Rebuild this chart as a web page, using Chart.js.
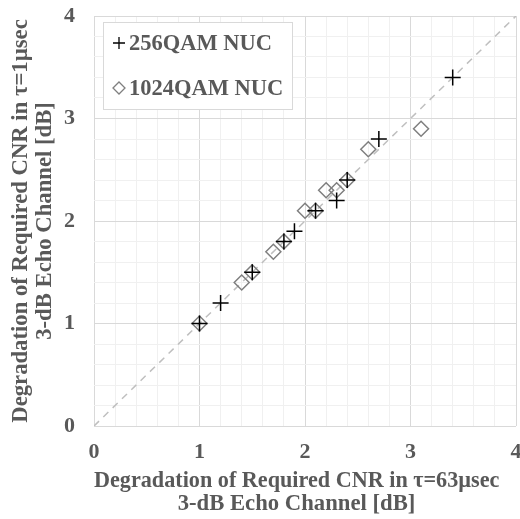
<!DOCTYPE html>
<html>
<head>
<meta charset="utf-8">
<script src="https://cdn.jsdelivr.net/npm/chart.js@4/dist/chart.umd.min.js"></script>
<style>
  html, body { margin: 0; padding: 0; background: #fff; }
  canvas { display: block; }
</style>
</head>
<body>
<canvas id="scatterChart" width="520" height="519"></canvas>
<script>
// x = degradation at tau=63usec, y = degradation at tau=1usec
const qam256X = [1.0, 1.2, 1.5, 1.8, 1.9, 2.1, 2.3, 2.4, 2.7, 3.4];
const qam256Y = [1.0, 1.2, 1.5, 1.8, 1.9, 2.1, 2.2, 2.4, 2.8, 3.4];
const qam1024X = [1.0, 1.4, 1.5, 1.7, 1.8, 2.0, 2.1, 2.2, 2.3, 2.4, 2.6, 3.1];
const qam1024Y = [1.0, 1.4, 1.5, 1.7, 1.8, 2.1, 2.1, 2.3, 2.3, 2.4, 2.7, 2.9];
const diagonalX = [0, 4];
const seriesNames = ['256QAM NUC', '1024QAM NUC'];
const xTitle = ['Degradation of Required CNR in \u03c4=63\u00b5sec', '3-dB Echo Channel [dB]'];
const yTitle = ['Degradation of Required CNR in \u03c4=1\u00b5sec', '3-dB Echo Channel [dB]'];

const FONT = '"Liberation Serif", "Times New Roman", serif';
const TEXT = '#595959';
// the x title sits a bit left of the plot centre; pad it on the right
const PAD = '\u00a0\u00a0\u00a0';

function toPoints(xs, ys) {
    return xs.map((x, i) => ({ x: x, y: ys[i] }));
}

function isMajor(v) {
    return Math.abs(v - Math.round(v)) < 1e-6;
}

// legend box drawn inside the plot, top-left
const boxLegend = {
    id: 'boxLegend',
    afterDatasetsDraw(chart) {
        const { ctx, chartArea } = chart;
        const bx = chartArea.left + 9;
        const by = chartArea.top + 6;
        ctx.save();
        ctx.fillStyle = '#ffffff';
        ctx.strokeStyle = '#d9d9d9';
        ctx.lineWidth = 1;
        ctx.fillRect(bx, by, 189, 87);
        ctx.strokeRect(bx + 0.5, by + 0.5, 189, 87);
        ctx.font = 'bold 22.5px ' + FONT;
        ctx.textBaseline = 'middle';
        ctx.textAlign = 'left';
        seriesNames.forEach((name, i) => {
            const ds = chart.data.datasets[i];
            const cy = by + 21 + i * 45;
            ctx.fillStyle = 'rgba(0,0,0,0)';
            ctx.strokeStyle = ds.borderColor;
            ctx.lineWidth = 1.3;
            Chart.helpers.drawPoint(ctx, {
                pointStyle: ds.pointStyle,
                radius: 6,
                borderWidth: 1.3,
                rotation: 0
            }, bx + 16, cy);
            ctx.fillStyle = TEXT;
            ctx.fillText(name, bx + 26, cy + 1);
        });
        ctx.restore();
    }
};

const axisCommon = {
    type: 'linear',
    min: 0,
    max: 4,
    border: { display: false },
    grid: {
        drawTicks: false,
        lineWidth: 1,
        color: c => isMajor(c.tick.value) ? '#d9d9d9' : '#f0f0f0'
    },
    ticks: {
        stepSize: 0.2,
        autoSkip: false,
        maxRotation: 0,
        color: TEXT,
        font: { family: FONT, size: 22, weight: 'bold' },
        callback: v => isMajor(v) ? String(Math.round(v)) : ''
    }
};

const ctx = document.getElementById('scatterChart').getContext('2d');
new Chart(ctx, {
    type: 'scatter',
    data: {
        datasets: [
            {
                label: seriesNames[0],
                data: toPoints(qam256X, qam256Y),
                pointStyle: 'cross',
                pointRadius: 8,
                pointBorderWidth: 1.5,
                borderColor: '#000000',
                backgroundColor: 'transparent'
            },
            {
                label: seriesNames[1],
                data: toPoints(qam1024X, qam1024Y),
                pointStyle: 'rectRot',
                pointRadius: 7.5,
                pointBorderWidth: 1.5,
                borderColor: '#7f7f7f',
                backgroundColor: 'transparent'
            },
            {
                label: 'y=x',
                type: 'line',
                data: toPoints(diagonalX, diagonalX),
                borderColor: '#bfbfbf',
                borderWidth: 1.5,
                borderDash: [7, 6],
                pointRadius: 0,
                fill: false
            }
        ]
    },
    options: {
        responsive: false,
        animation: false,
        layout: { autoPadding: false, padding: { top: 16, right: 4, left: 0, bottom: 0 } },
        scales: {
            x: {
                ...axisCommon,
                ticks: { ...axisCommon.ticks, padding: 13 },
                title: {
                    display: true,
                    text: xTitle.map(t => t + PAD),
                    color: TEXT,
                    font: { family: FONT, size: 22.7, weight: 'bold', lineHeight: 1.02 },
                    padding: { top: 0, bottom: 3 }
                },
                afterFit: s => {
                    s.height = 93;
                    s.paddingLeft = 0;
                    s.paddingRight = 0;
                }
            },
            y: {
                ...axisCommon,
                ticks: { ...axisCommon.ticks, padding: 19 },
                title: {
                    display: true,
                    text: yTitle,
                    color: TEXT,
                    font: { family: FONT, size: 22.7, weight: 'bold', lineHeight: 1.02 },
                    padding: { top: 10, bottom: 0 }
                },
                afterFit: s => {
                    s.width = 94;
                    s.paddingTop = 0;
                    s.paddingBottom = 0;
                }
            }
        },
        plugins: {
            legend: { display: false },
            tooltip: { enabled: false }
        }
    },
    plugins: [boxLegend]
});
</script>
</body>
</html>
